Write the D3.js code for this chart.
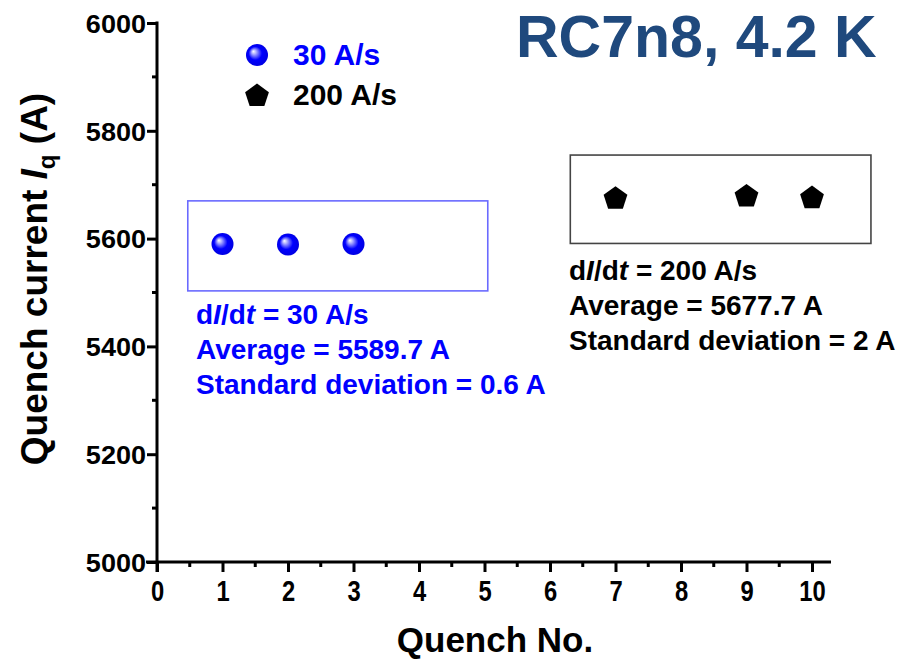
<!DOCTYPE html>
<html>
<head>
<meta charset="utf-8">
<script src="https://cdn.jsdelivr.net/npm/d3@7"></script>
<style>
  html, body { margin: 0; padding: 0; background: #fff; }
  svg { display: block; }
  text { font-family: "Liberation Sans", Arial, sans-serif; font-weight: bold; }
</style>
</head>
<body>
<svg id="chart" width="900" height="660"></svg>
<script>
// ---- data ----
const quench30 = [1, 2, 3];
const current30 = [5590, 5589, 5590];
const quench200 = [7, 9, 10];
const current200 = [5676, 5680, 5677];
const xTicks = [0, 1, 2, 3, 4, 5, 6, 7, 8, 9, 10];
const yTicks = [5000, 5200, 5400, 5600, 5800, 6000];
const legendLabels = ["30 A/s", "200 A/s"];
const stats30 = { rate: "30 A/s", avg: "5589.7 A", sd: "0.6 A" };
const stats200 = { rate: "200 A/s", avg: "5677.7 A", sd: "2 A" };
const titleText = "RC7n8, 4.2 K";

// ---- layout ----
const svg = d3.select("#chart");
const L = 157, R = 812, T = 23, B = 562;
const x = d3.scaleLinear().domain([0, 10]).range([L, R]);
const y = d3.scaleLinear().domain([5000, 6000]).range([B, T]);
const blue = "#0000ff";

// gradient for spheres
const defs = svg.append("defs");
const grad = defs.append("radialGradient").attr("id", "sphere")
  .attr("cx", "50%").attr("cy", "50%").attr("r", "55%")
  .attr("fx", "33%").attr("fy", "33%");
grad.append("stop").attr("offset", "0%").attr("stop-color", "#ffffff");
grad.append("stop").attr("offset", "18%").attr("stop-color", "#b0b0ff");
grad.append("stop").attr("offset", "55%").attr("stop-color", "#0000ff");
grad.append("stop").attr("offset", "100%").attr("stop-color", "#0000dd");

// ---- axes ----
const axW = 3;
// y axis
const ySX = 1.04;
const yAxis = svg.append("g").attr("transform", `translate(${L},0)`)
  .call(d3.axisLeft(y).tickValues(yTicks).tickSize(10).tickSizeOuter(0).tickFormat(d3.format("d")));
yAxis.select(".domain").remove();
yAxis.selectAll(".tick line").attr("stroke", "#000").attr("stroke-width", axW);
yAxis.selectAll(".tick text").style("font-size", "26px").attr("fill", "#000")
  .attr("x", -11 / ySX).attr("transform", `scale(${ySX},1)`).attr("dy", "0.36em");
// y minor
svg.append("g").selectAll("line").data(d3.range(5100, 6000, 200)).join("line")
  .attr("x1", L - 5).attr("x2", L).attr("y1", d => y(d)).attr("y2", d => y(d))
  .attr("stroke", "#000").attr("stroke-width", axW);

// x axis
const xAxis = svg.append("g").attr("transform", `translate(0,${B})`)
  .call(d3.axisBottom(x).tickValues(xTicks).tickSize(10).tickSizeOuter(0).tickPadding(8).tickFormat(d3.format("d")));
xAxis.select(".domain").remove();
xAxis.selectAll(".tick line").attr("stroke", "#000").attr("stroke-width", axW);
xAxis.selectAll(".tick text").style("font-size", "29px").attr("fill", "#000")
  .attr("transform", "scale(0.82,1)");
svg.append("g").selectAll("line").data(d3.range(0.5, 10, 1)).join("line")
  .attr("x1", d => x(d)).attr("x2", d => x(d)).attr("y1", B).attr("y2", B + 5)
  .attr("stroke", "#000").attr("stroke-width", axW);

// axis lines
svg.append("line").attr("x1", L).attr("x2", L).attr("y1", T - 1.5).attr("y2", B + 10)
  .attr("stroke", "#000").attr("stroke-width", axW);
svg.append("line").attr("x1", L - 11).attr("x2", R + 19).attr("y1", B).attr("y2", B)
  .attr("stroke", "#000").attr("stroke-width", axW);

// axis titles
svg.append("text").attr("x", 495).attr("y", 652).attr("text-anchor", "middle")
  .attr("font-size", 35).attr("fill", "#000").text("Quench No.");
const yt = svg.append("text").attr("transform", "translate(47,279) rotate(-90)")
  .attr("text-anchor", "middle").attr("font-size", 37).attr("fill", "#000");
yt.append("tspan").text("Quench current ");
yt.append("tspan").attr("font-style", "italic").text("I");
yt.append("tspan").attr("font-size", 24).attr("dy", 8).text("q");
yt.append("tspan").attr("dy", -8).text(" (A)");

// ---- annotation boxes ----
svg.append("rect").attr("x", x(0.47)).attr("y", y(5670))
  .attr("width", x(5.05) - x(0.47)).attr("height", y(5503) - y(5670))
  .attr("fill", "none").attr("stroke", "#6a6aff").attr("stroke-width", 1.6);
svg.append("rect").attr("x", x(6.31)).attr("y", y(5755))
  .attr("width", x(10.9) - x(6.31)).attr("height", y(5591) - y(5755))
  .attr("fill", "none").attr("stroke", "#444").attr("stroke-width", 1.6);

// ---- marks ----
function pentagonPath(r) {
  const pts = d3.range(5).map(i => {
    const a = -Math.PI / 2 + i * 2 * Math.PI / 5;
    return [r * Math.cos(a), r * Math.sin(a)];
  });
  return "M" + pts.map(p => p.join(",")).join("L") + "Z";
}
svg.append("g").selectAll("circle").data(quench30).join("circle")
  .attr("cx", d => x(d)).attr("cy", (d, i) => y(current30[i])).attr("r", 11)
  .attr("fill", "url(#sphere)");
svg.append("g").selectAll("path").data(quench200).join("path")
  .attr("transform", (d, i) => `translate(${x(d)},${y(current200[i]) + 1})`)
  .attr("d", pentagonPath(12.5)).attr("fill", "#000");

// ---- legend ----
svg.append("circle").attr("cx", 257).attr("cy", 55).attr("r", 11).attr("fill", "url(#sphere)");
svg.append("path").attr("transform", "translate(257,96)").attr("d", pentagonPath(12.5)).attr("fill", "#000");
svg.append("text").attr("x", 293).attr("y", 65).attr("font-size", 30).attr("fill", blue).text(legendLabels[0]);
svg.append("text").attr("x", 293).attr("y", 105).attr("font-size", 30).attr("fill", "#000").text(legendLabels[1]);

// ---- stats text ----
function statBlock(x0, y0, color, s) {
  const g = svg.append("g").attr("fill", color);
  const t1 = g.append("text").attr("x", x0).attr("y", y0).attr("font-size", 28);
  t1.append("tspan").text("d");
  t1.append("tspan").attr("font-style", "italic").text("I");
  t1.append("tspan").text("/d");
  t1.append("tspan").attr("font-style", "italic").text("t");
  t1.append("tspan").text(" = " + s.rate);
  g.append("text").attr("x", x0).attr("y", y0 + 35).attr("font-size", 28).text("Average = " + s.avg);
  g.append("text").attr("x", x0).attr("y", y0 + 70).attr("font-size", 28).text("Standard deviation = " + s.sd);
}
statBlock(196, 324, blue, stats30);
statBlock(569, 280, "#000", stats200);

// ---- title ----
svg.append("text").attr("x", 516).attr("y", 57).attr("font-size", 59).attr("fill", "#1f497d")
  .text(titleText);
</script>
</body>
</html>
